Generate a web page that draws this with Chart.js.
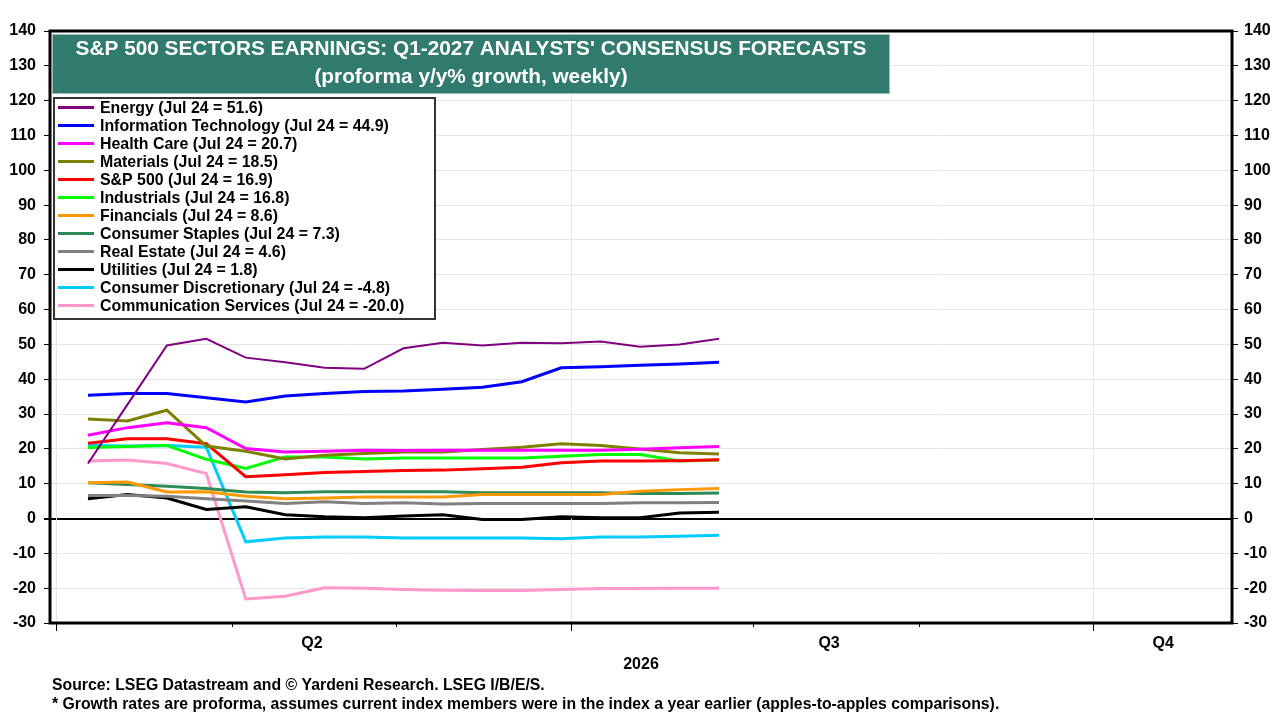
<!DOCTYPE html>
<html>
<head>
<meta charset="utf-8">
<title>S&P 500 Sectors Earnings: Q1-2027 Consensus Forecasts</title>
<script src="https://cdn.jsdelivr.net/npm/chart.js@4.4.1/dist/chart.umd.min.js"></script>
<style>
  html, body { margin: 0; padding: 0; background: #fff; }
  canvas { display: block; }
</style>
</head>
<body>
<canvas id="chartOne" width="1280" height="720"></canvas>
<script>
// weekly observations (x = index in this list)
const weeks = ["Apr 3", "Apr 10", "Apr 17", "Apr 24", "May 1", "May 8", "May 15", "May 22", "May 29",
               "Jun 5", "Jun 12", "Jun 19", "Jun 26", "Jul 3", "Jul 10", "Jul 17", "Jul 24"];

const energy      = [15.8, 32.7, 49.7, 51.6, 46.2, 44.9, 43.3, 43.0, 48.9, 50.5, 49.7, 50.5, 50.3, 50.8, 49.3, 50.0, 51.6];
const infoTech    = [35.4, 35.9, 35.9, 34.7, 33.5, 35.2, 35.9, 36.5, 36.6, 37.1, 37.7, 39.3, 43.3, 43.6, 44.0, 44.4, 44.9];
const healthCare  = [23.9, 26.1, 27.5, 26.1, 20.1, 19.1, 19.3, 19.6, 19.5, 19.6, 19.6, 19.6, 19.6, 19.6, 19.9, 20.3, 20.7];
const materials   = [28.6, 28.0, 31.1, 20.8, 19.3, 17.1, 18.2, 18.7, 19.1, 19.1, 19.8, 20.5, 21.5, 21.0, 20.0, 18.9, 18.5];
const sp500       = [21.6, 22.9, 22.9, 21.5, 12.0, 12.6, 13.2, 13.5, 13.8, 13.9, 14.3, 14.7, 16.0, 16.5, 16.5, 16.6, 16.9];
const industrials = [20.4, 20.7, 21.0, 17.0, 14.4, 17.7, 17.7, 17.1, 17.4, 17.4, 17.4, 17.4, 17.9, 18.4, 18.4, 16.5, 16.8];
const financials  = [10.3, 10.5, 7.6, 7.7, 6.4, 5.7, 5.9, 6.2, 6.2, 6.2, 6.9, 6.9, 6.9, 6.9, 7.8, 8.3, 8.6];
const staples     = [10.3, 9.8, 9.3, 8.6, 7.6, 7.4, 7.7, 7.7, 7.7, 7.7, 7.4, 7.4, 7.4, 7.4, 7.2, 7.2, 7.3];
const realEstate  = [6.6, 6.6, 6.4, 5.7, 5.0, 4.3, 4.8, 4.3, 4.5, 4.2, 4.3, 4.3, 4.3, 4.3, 4.5, 4.5, 4.6];
const utilities   = [5.7, 6.9, 5.9, 2.6, 3.4, 1.1, 0.5, 0.2, 0.7, 1.1, -0.3, -0.3, 0.5, 0.2, 0.2, 1.6, 1.8];
const consDisc    = [21.0, 20.8, 21.0, 20.5, -6.7, -5.6, -5.3, -5.3, -5.6, -5.6, -5.6, -5.6, -5.8, -5.3, -5.3, -5.1, -4.8];
const commServ    = [16.5, 16.8, 15.8, 12.9, -23.1, -22.3, -19.9, -20.0, -20.4, -20.6, -20.7, -20.7, -20.4, -20.1, -20.1, -20.0, -20.0];

const sectorNames = ["Energy", "Information Technology", "Health Care", "Materials", "S&P 500", "Industrials",
                     "Financials", "Consumer Staples", "Real Estate", "Utilities", "Consumer Discretionary",
                     "Communication Services"];
const sectorValues = [energy, infoTech, healthCare, materials, sp500, industrials,
                      financials, staples, realEstate, utilities, consDisc, commServ];
const sectorColors = ["#800080", "#0000ff", "#ff00ff", "#808000", "#ff0000", "#00ff00",
                      "#ff9900", "#2e8b57", "#808080", "#000000", "#00ccff", "#ff99cc"];

const yTicks = [-30, 140];
const quarterLabels = ["Q2", "Q3", "Q4"];

// axis positions on the week-index scale
const X_MIN = -0.963, X_MAX = 29.006;
const quarterLabelPos = [5.68, 18.79, 27.26];
const quarterStarts = [-0.81, 12.25, 25.48];
const monthStarts = [3.65, 7.81, 16.86, 21.07];

const FONT = "'Liberation Sans', Arial, Helvetica, sans-serif";
const lastWeek = weeks[weeks.length - 1];

const datasets = sectorNames.map((name, i) => ({
    label: name + " (" + lastWeek + " = " + sectorValues[i][sectorValues[i].length - 1].toFixed(1) + ")",
    data: sectorValues[i].map((v, k) => ({ x: k, y: v })),
    borderColor: sectorColors[i],
    backgroundColor: sectorColors[i],
    borderWidth: i === 0 ? 2 : 3,
    pointRadius: 0,
    tension: 0,
    fill: false,
}));

// frame, quarter gridlines, tick marks, title box, legend and notes
const decorations = {
    id: "decorations",
    beforeDatasetsDraw(chart) {
        const { ctx, chartArea: a, scales: { x } } = chart;
        ctx.save();
        ctx.strokeStyle = "#e6e6e6";
        ctx.lineWidth = 1;
        quarterStarts.forEach((v) => {
            const px = Math.round(x.getPixelForValue(v)) + 0.5;
            ctx.beginPath();
            ctx.moveTo(px, a.top);
            ctx.lineTo(px, a.bottom);
            ctx.stroke();
        });
        ctx.restore();
    },
    afterDraw(chart) {
        const { ctx, chartArea: a, scales: { x } } = chart;
        ctx.save();

        // plot frame
        ctx.strokeStyle = "#000";
        ctx.lineWidth = 3;
        ctx.strokeRect(a.left, a.top, a.right - a.left, a.bottom - a.top);

        // x tick marks
        ctx.lineWidth = 1;
        quarterStarts.forEach((v) => {
            const px = Math.round(x.getPixelForValue(v)) + 0.5;
            ctx.beginPath();
            ctx.moveTo(px, a.bottom);
            ctx.lineTo(px, a.bottom + 8);
            ctx.stroke();
        });
        monthStarts.forEach((v) => {
            const px = Math.round(x.getPixelForValue(v)) + 0.5;
            ctx.beginPath();
            ctx.moveTo(px, a.bottom);
            ctx.lineTo(px, a.bottom + 4);
            ctx.stroke();
        });

        // title box
        ctx.fillStyle = "#317b6e";
        ctx.fillRect(52, 34, 838, 60);
        ctx.strokeStyle = "#9cbfb8";
        ctx.lineWidth = 1;
        ctx.strokeRect(52.5, 34.5, 837, 59);
        ctx.fillStyle = "#fff";
        ctx.font = "bold 20.8px " + FONT;
        ctx.textAlign = "center";
        ctx.textBaseline = "middle";
        ctx.fillText("S&P 500 SECTORS EARNINGS: Q1-2027 ANALYSTS' CONSENSUS FORECASTS", 471, 49);
        ctx.fillText("(proforma y/y% growth, weekly)", 471, 77);

        // legend box
        ctx.fillStyle = "#fff";
        ctx.fillRect(53, 97, 382, 222);
        ctx.strokeStyle = "#333";
        ctx.lineWidth = 2;
        ctx.strokeRect(54, 98, 381, 221);
        ctx.font = "bold 15.9px " + FONT;
        ctx.textAlign = "left";
        ctx.textBaseline = "middle";
        chart.data.datasets.forEach((ds, i) => {
            const y = 107.5 + i * 18;
            ctx.strokeStyle = ds.borderColor;
            ctx.lineWidth = 3;
            ctx.beginPath();
            ctx.moveTo(58, y);
            ctx.lineTo(94, y);
            ctx.stroke();
            ctx.fillStyle = "#000";
            ctx.fillText(ds.label, 100, y + 1);
        });

        // notes
        ctx.font = "bold 15.8px " + FONT;
        ctx.fillStyle = "#000";
        ctx.fillText("Source: LSEG Datastream and \u00a9 Yardeni Research. LSEG I/B/E/S.", 52, 686);
        ctx.fillText("* Growth rates are proforma, assumes current index members were in the index a year earlier (apples-to-apples comparisons).", 52, 705);

        ctx.restore();
    },
};

const tickFont = { family: FONT, size: 16, weight: "bold" };

const ctx1 = document.getElementById("chartOne").getContext("2d");
const graficaUno = new Chart(ctx1, {
    type: "line",
    data: { datasets: datasets },
    options: {
        responsive: false,
        animation: false,
        events: [],
        layout: { padding: { top: 31, bottom: 40, left: 0, right: 0 } },
        plugins: {
            legend: { display: false },
            tooltip: { enabled: false },
        },
        scales: {
            x: {
                type: "linear",
                min: X_MIN,
                max: X_MAX,
                grid: { display: false, drawTicks: false },
                border: { display: false },
                afterBuildTicks: (scale) => {
                    scale.ticks = quarterLabelPos.map((v) => ({ value: v }));
                },
                ticks: {
                    autoSkip: false,
                    maxRotation: 0,
                    padding: 11,
                    color: "#000",
                    font: tickFont,
                    callback: (value, index) => quarterLabels[index],
                },
                title: {
                    display: true,
                    text: "2026",
                    color: "#000",
                    font: tickFont,
                    padding: { top: 0, bottom: 6 },
                },
                afterFit: (scale) => { scale.height = 57; },
            },
            y: {
                position: "left",
                min: yTicks[0],
                max: yTicks[1],
                grid: {
                    color: (c) => (c.tick && c.tick.value === 0 ? "#000" : "#e6e6e6"),
                    lineWidth: (c) => (c.tick && c.tick.value === 0 ? 2 : 1),
                    tickColor: "#000",
                    tickLength: 6,
                },
                border: { display: false },
                ticks: { stepSize: 10, padding: 8, color: "#000", font: tickFont },
                afterFit: (scale) => { scale.width = 50; },
            },
            y2: {
                position: "right",
                min: yTicks[0],
                max: yTicks[1],
                grid: { drawOnChartArea: false, tickColor: "#000", tickLength: 6 },
                border: { display: false },
                ticks: { stepSize: 10, padding: 6, color: "#000", font: tickFont },
                afterFit: (scale) => { scale.width = 48; },
            },
        },
    },
    plugins: [decorations],
});
</script>
</body>
</html>
